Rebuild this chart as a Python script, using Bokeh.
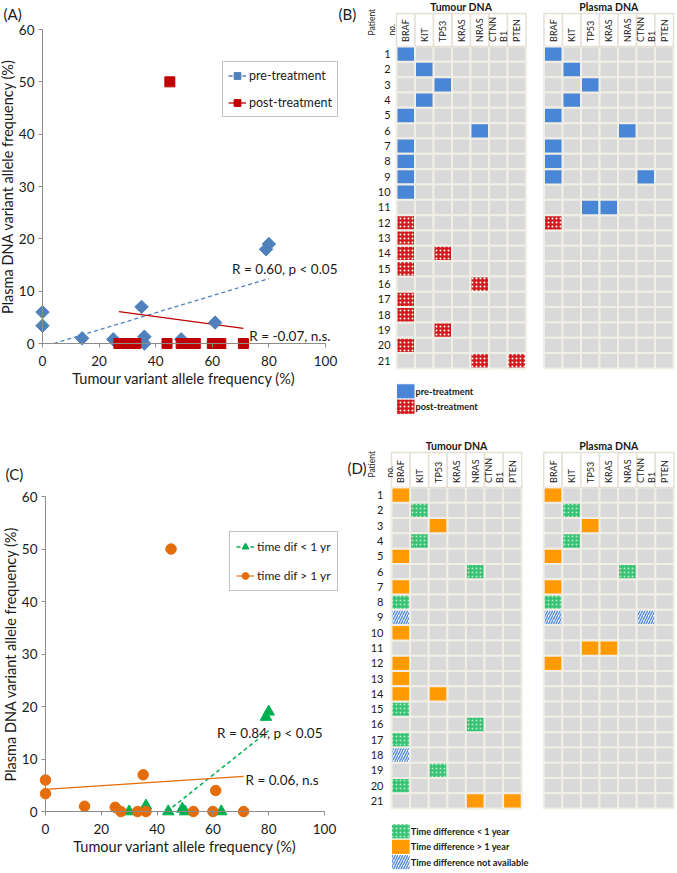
import math
from bokeh.plotting import figure
from bokeh.models import Range1d, Label, Legend, LegendItem, FixedTicker
from bokeh.layouts import row, column
from bokeh.embed import file_html
from bokeh.resources import INLINE
from bokeh.core.properties import value

FONT = "Lato"

# ---------------- data ----------------
x_ticks = [0, 20, 40, 60, 80, 100]
y_ticks = [0, 10, 20, 30, 40, 50, 60]

# (A) pre-/post-treatment scatter
pre_x = [0, 0, 14, 25, 35, 36, 36, 49, 61, 79, 80]
pre_y = [6.0, 3.4, 1.0, 0.8, 7.0, 1.3, 0.0, 0.8, 4.0, 18.0, 19.0]
post_x = [45, 27, 30, 33, 44, 49, 52, 54, 60, 63, 71]
post_y = [50, 0, 0, 0, 0, 0, 0, 0, 0, 0, 0]
pre_trend_x = [4, 80]
pre_trend_y = [0.0, 12.4]
post_trend_x = [27, 71]
post_trend_y = [6.1, 2.9]

# (C) time difference scatter
lt1_x = [30, 36, 44, 49, 50, 63, 79, 80]
lt1_y = [0.0, 1.1, 0.0, 0.5, 0.0, 0.0, 18.0, 19.0]
gt1_x = [0, 0, 14, 25, 27, 33, 35, 36, 45, 53, 60, 61, 71]
gt1_y = [6.0, 3.4, 1.0, 0.8, 0.0, 0.0, 7.0, 0.0, 50.0, 0.0, 0.0, 4.0, 0.0]
lt1_trend_x = [43.6, 80]
lt1_trend_y = [0.0, 15.4]
gt1_trend_x = [0, 71]
gt1_trend_y = [4.2, 6.7]

# (B)/(D) mutation grids
genes = ["BRAF", "KIT", "TP53", "KRAS", "NRAS", "CTNNB1", "PTEN"]
gene_labels = ["BRAF", "KIT", "TP53", "KRAS", "NRAS", "CTNN\nB1", "PTEN"]
patients = list(range(1, 22))

B_tumour_pre = [(1, "BRAF"), (2, "KIT"), (3, "TP53"), (4, "KIT"), (5, "BRAF"), (6, "NRAS"),
                (7, "BRAF"), (8, "BRAF"), (9, "BRAF"), (10, "BRAF")]
B_tumour_post = [(12, "BRAF"), (13, "BRAF"), (14, "BRAF"), (14, "TP53"), (15, "BRAF"), (16, "NRAS"),
                 (17, "BRAF"), (18, "BRAF"), (19, "TP53"), (20, "BRAF"), (21, "NRAS"), (21, "PTEN")]
B_plasma_pre = [(1, "BRAF"), (2, "KIT"), (3, "TP53"), (4, "KIT"), (5, "BRAF"), (6, "NRAS"),
                (7, "BRAF"), (8, "BRAF"), (9, "BRAF"), (9, "CTNNB1"), (11, "TP53"), (11, "KRAS")]
B_plasma_post = [(12, "BRAF")]

D_tumour_lt1 = [(2, "KIT"), (4, "KIT"), (6, "NRAS"), (8, "BRAF"), (15, "BRAF"), (16, "NRAS"),
                (17, "BRAF"), (19, "TP53"), (20, "BRAF")]
D_tumour_gt1 = [(1, "BRAF"), (3, "TP53"), (5, "BRAF"), (7, "BRAF"), (10, "BRAF"), (12, "BRAF"),
                (13, "BRAF"), (14, "BRAF"), (14, "TP53"), (21, "NRAS"), (21, "PTEN")]
D_tumour_na = [(9, "BRAF"), (18, "BRAF")]
D_plasma_lt1 = [(2, "KIT"), (4, "KIT"), (6, "NRAS"), (8, "BRAF")]
D_plasma_gt1 = [(1, "BRAF"), (3, "TP53"), (5, "BRAF"), (7, "BRAF"), (11, "TP53"), (11, "KRAS"), (12, "BRAF")]
D_plasma_na = [(9, "BRAF"), (9, "CTNNB1")]

# ---------------- styles ----------------
AXIS_C = "#8c8c8c"
TXT_C = "#1a1a1a"
PRE_BLUE = "#4f81bd"
POST_RED = "#c00000"
LT1_GREEN = "#00b050"
GT1_ORANGE = "#e46c0a"

CELL_GRAY = "#d9d9d9"
GRID_LINE = "#f1eee6"
HDR_LINE = "#e4e0d4"
BLUE_CELL = "#4a86d6"
RED_CELL = "#d3191c"
ORANGE_CELL = "#ff9a00"
GREEN_CELL = "#34c274"
HATCH_BLUE = "#5a8fd8"

STY = {
    "pre": dict(fill_color=BLUE_CELL),
    "post": dict(fill_color=RED_CELL, hatch_pattern="dot", hatch_color="white", hatch_scale=4, hatch_weight=1.2),
    "lt1": dict(fill_color=GREEN_CELL, hatch_pattern="dot", hatch_color="#b6ecca", hatch_scale=4, hatch_weight=1.2),
    "gt1": dict(fill_color=ORANGE_CELL),
    "na": dict(fill_color="white", hatch_pattern="right_diagonal_line", hatch_color=HATCH_BLUE, hatch_scale=5, hatch_weight=1.5),
}


def scatter_panel(W, H, L, R, T, B):
    """Frame covers the whole figure; axes are pinned at x=0 / y=0."""
    x0, x1 = x_ticks[0], x_ticks[-1]
    y0, y1 = y_ticks[0], y_ticks[-1]
    sx = (R - L) / (x1 - x0)
    sy = (B - T) / (y1 - y0)
    p = figure(width=W, height=H,
               x_range=Range1d(x0 - L / sx, x0 + (W - L) / sx),
               y_range=Range1d(y0 - (H - B) / sy, y0 + B / sy),
               output_backend="svg", toolbar_location=None, min_border=0)
    p.xgrid.visible = False
    p.ygrid.visible = False
    p.outline_line_color = None
    p.xaxis.ticker = FixedTicker(ticks=x_ticks)
    p.yaxis.ticker = FixedTicker(ticks=y_ticks)
    p.xaxis.fixed_location = y0
    p.yaxis.fixed_location = x0
    p.xaxis.bounds = (x0, x1)
    p.yaxis.bounds = (y0, y1)
    for ax in p.axis:
        ax.axis_line_color = AXIS_C
        ax.major_tick_in = 0
        ax.major_tick_out = 4
        ax.major_tick_line_color = AXIS_C
        ax.minor_tick_line_color = None
        ax.major_label_text_font = FONT
        ax.major_label_text_font_size = "13.5px"
        ax.major_label_text_color = TXT_C
        ax.axis_label_text_font = FONT
        ax.axis_label_text_font_style = "normal"
        ax.axis_label_text_color = TXT_C
    p.xaxis.major_label_standoff = 8
    p.yaxis.major_label_standoff = 4
    p.xaxis.axis_label = "Tumour variant allele frequency (%)"
    p.xaxis.axis_label_text_font_size = "14.5px"
    p.xaxis.axis_label_standoff = 1
    p.yaxis.axis_label = "Plasma DNA variant allele frequency (%)"
    p.yaxis.axis_label_text_font_size = "14.5px"
    p.yaxis.axis_label_standoff = 0

    def px2x(px):
        return x0 + (px - L) / sx

    def px2y(py):
        return y0 + (B - py) / sy

    return p, px2x, px2y


def add_label(p, x, y, text, align="left", baseline="middle", size="13.5px"):
    p.add_layout(Label(x=x, y=y, text=text, text_align=align, text_baseline=baseline,
                       text_font=FONT, text_font_size=size, text_color=TXT_C))


def style_legend(lg, size="12.5px"):
    lg.border_line_color = "#868686"
    lg.border_line_width = 1
    lg.padding = 5
    lg.spacing = 10
    lg.margin = 0
    lg.label_text_font = FONT
    lg.label_text_font_size = size
    lg.label_text_color = TXT_C
    lg.glyph_width = 18
    lg.glyph_height = 17
    lg.label_height = 17
    lg.label_standoff = 3
    lg.background_fill_color = "white"
    lg.background_fill_alpha = 1


# ---------------- panel A ----------------
WA, HA, LA, RA, TA, BA = 338, 430, 42, 325, 29, 343
pA, ax_, ay_ = scatter_panel(WA, HA, LA, RA, TA, BA)
rA1t = pA.line(pre_trend_x, pre_trend_y, line_color=PRE_BLUE, line_width=1.3, line_dash="4 3")
rA2t = pA.line(post_trend_x, post_trend_y, line_color=POST_RED, line_width=1.3)
rA1 = pA.scatter(pre_x, pre_y, marker="square", angle=math.pi / 4, size=9.5,
                 fill_color=PRE_BLUE, line_color=PRE_BLUE)
rA2 = pA.scatter(post_x, post_y, marker="square", size=10, fill_color=POST_RED, line_color=POST_RED)
legA = Legend(items=[LegendItem(label="pre-treatment", renderers=[rA1t, rA1]),
                     LegendItem(label="post-treatment", renderers=[rA2t, rA2])],
              location=(222, HA - 117))
style_legend(legA)
pA.add_layout(legA)
add_label(pA, ax_(337), ay_(268), "R = 0.60, p < 0.05", align="right")
add_label(pA, ax_(330), ay_(335), "R = -0.07, n.s.", align="right")
add_label(pA, ax_(3), ay_(4), "(A)", baseline="top", size="15px")

# ---------------- panel C ----------------
WC, HC, LC, RC, TC, BC = 338, 443, 45, 324, 66, 381
pC, cx_, cy_ = scatter_panel(WC, HC, LC, RC, TC, BC)
rC1t = pC.line(lt1_trend_x, lt1_trend_y, line_color=LT1_GREEN, line_width=1.5, line_dash="4 3")
rC2t = pC.line(gt1_trend_x, gt1_trend_y, line_color=GT1_ORANGE, line_width=1.2)
rC1 = pC.scatter(lt1_x, lt1_y, marker="triangle", size=11.5, fill_color=LT1_GREEN, line_color=LT1_GREEN)
rC2 = pC.scatter(gt1_x, gt1_y, marker="circle", size=10.5, fill_color=GT1_ORANGE, line_color=GT1_ORANGE)
legC = Legend(items=[LegendItem(label="time dif < 1 yr", renderers=[rC1t, rC1]),
                     LegendItem(label="time dif > 1 yr", renderers=[rC2t, rC2])],
              location=(229, HC - 161))
style_legend(legC, size="12px")
legC.spacing = 12
legC.padding = 6
pC.add_layout(legC)
add_label(pC, cx_(322), cy_(302), "R = 0.84, p < 0.05", align="right")
add_label(pC, cx_(318), cy_(349), "R = 0.06, n.s", align="right")
add_label(pC, cx_(5), cy_(34), "(C)", baseline="top", size="15px")


# ---------------- grid panels ----------------
def grid_panel(W, H, gx0, cw, gap, gy0, rh, hdr_top, title_y, num_x, pat_x, pat_y, pat_lh, tag, tag_xy,
               layers, legend_rows):
    p = figure(width=W, height=H,
               x_range=Range1d(-gx0 / cw, (W - gx0) / cw),
               y_range=Range1d((H - gy0) / rh, -gy0 / rh),
               output_backend="svg", toolbar_location=None,
               x_axis_location=None, y_axis_location=None, min_border=0)
    p.xgrid.visible = False
    p.ygrid.visible = False
    p.outline_line_color = None
    offs = [0, len(genes) + gap]
    ng = len(genes)
    for off, title in zip(offs, ["Tumour DNA", "Plasma DNA"]):
        bx = [off + gi + 0.5 for gi in range(ng) for _ in patients]
        by = [pi + 0.5 for _ in range(ng) for pi in range(len(patients))]
        p.rect(x=bx, y=by, width=1, height=1, fill_color=CELL_GRAY, line_color=GRID_LINE, line_width=2)
        hx = [off + gi + 0.5 for gi in range(ng)]
        p.rect(x=hx, y=[hdr_top / 2] * ng, width=1, height=-hdr_top, fill_color="white",
               line_color=HDR_LINE, line_width=1.5)
        p.text(x=hx, y=[-0.3] * ng, text=gene_labels, angle=math.pi / 2, text_align="left",
               text_baseline="middle", text_font=value(FONT), text_font_size=value("9px"),
               text_color=TXT_C, text_line_height=1.0)
        p.text(x=[off + ng / 2], y=[title_y], text=[title], text_align="center", text_baseline="middle",
               text_font=value(FONT), text_font_size=value("10.5px"), text_font_style=value("bold"),
               text_color=TXT_C)
    for block, lst, key in layers:
        off = offs[block]
        xs = [off + genes.index(g) + 0.5 for (_, g) in lst]
        ys = [patients.index(pt) + 0.5 for (pt, _) in lst]
        p.rect(x=xs, y=ys, width=1, height=1, line_color=GRID_LINE, line_width=2, **STY[key])
    p.text(x=[num_x] * len(patients), y=[pi + 0.5 for pi in range(len(patients))],
           text=[str(pt) for pt in patients], text_align="right", text_baseline="middle",
           text_font=value(FONT), text_font_size=value("11px"), text_color=TXT_C)
    p.text(x=[pat_x], y=[pat_y], text=["Patient\nno."], angle=math.pi / 2, text_align="left",
           text_baseline="middle", text_font=value(FONT), text_font_size=value("8.5px"),
           text_color=TXT_C, text_line_height=pat_lh)
    p.text(x=[tag_xy[0]], y=[tag_xy[1]], text=[tag], text_align="left", text_baseline="top",
           text_font=value(FONT), text_font_size=value("15px"), text_color=TXT_C)
    for i, (key, lbl) in enumerate(legend_rows):
        yy = len(patients) + 1 + i + 0.5
        p.rect(x=[0.5], y=[yy], width=1, height=1, line_color="white", line_width=1, **STY[key])
        p.text(x=[1.03], y=[yy], text=[lbl], text_align="left", text_baseline="middle",
               text_font=value(FONT), text_font_size=value("9.2px"), text_font_style=value("bold"),
               text_color=TXT_C)
    return p


WB, HB, gxB, cwB, gyB, rhB = 339, 430, 58, 18.5, 46, 15.33
pB = grid_panel(WB, HB, gxB, cwB, 18 / 18.5, gyB, rhB,
                hdr_top=(13 - gyB) / rhB, title_y=(6 - gyB) / rhB,
                num_x=-0.32, pat_x=-0.78, pat_y=-0.72, pat_lh=2.0,
                tag="(B)", tag_xy=((0 - gxB) / cwB, (4 - gyB) / rhB),
                layers=[(0, B_tumour_pre, "pre"), (0, B_tumour_post, "post"),
                        (1, B_plasma_pre, "pre"), (1, B_plasma_post, "post")],
                legend_rows=[("pre", "pre-treatment"), ("post", "post-treatment")])

WD, HD, gxD, cwD, gyD, rhD = 339, 443, 53, 18.6, 57, 15.29
pD = grid_panel(WD, HD, gxD, cwD, 22 / 18.6, gyD, rhD,
                hdr_top=(22 - gyD) / rhD, title_y=(15 - gyD) / rhD,
                num_x=-0.43, pat_x=-0.59, pat_y=-0.65, pat_lh=1.8,
                tag="(D)", tag_xy=((9 - gxD) / cwD, (28 - gyD) / rhD),
                layers=[(0, D_tumour_lt1, "lt1"), (0, D_tumour_gt1, "gt1"), (0, D_tumour_na, "na"),
                        (1, D_plasma_lt1, "lt1"), (1, D_plasma_gt1, "gt1"), (1, D_plasma_na, "na")],
                legend_rows=[("lt1", "Time difference < 1 year"), ("gt1", "Time difference > 1 year"),
                             ("na", "Time difference not available")])

layout = row(column(pA, pC), column(pB, pD))
open("out.html", "w").write(file_html(layout, INLINE))
